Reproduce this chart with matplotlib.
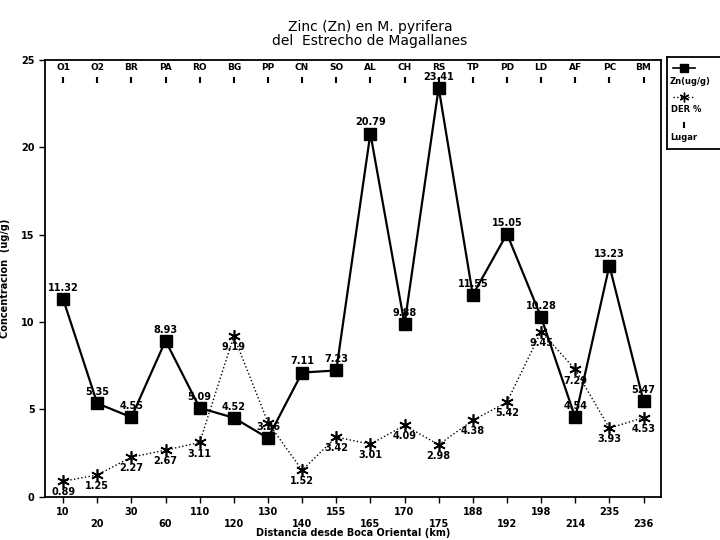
import numpy as np
import matplotlib.pyplot as plt

"--------------- datos --------------------"
lugares = ['O1', 'O2', 'BR', 'PA', 'RO', 'BG', 'PP', 'CN', 'SO',
           'AL', 'CH', 'RS', 'TP', 'PD', 'LD', 'AF', 'PC', 'BM']
distancia = ['10', '20', '30', '60', '110', '120', '130', '140', '155',
             '165', '170', '175', '188', '192', '198', '214', '235', '236']
zn = [11.32, 5.35, 4.55, 8.93, 5.09, 4.52, 3.36, 7.11, 7.23,
      20.79, 9.88, 23.41, 11.55, 15.05, 10.28, 4.54, 13.23, 5.47]
der = [0.89, 1.25, 2.27, 2.67, 3.11, 9.19, 4.25, 1.52, 3.42,
       3.01, 4.09, 2.98, 4.38, 5.42, 9.45, 7.29, 3.93, 4.53]

fuente = 'DejaVu Sans'
plt.rcParams['font.family'] = fuente

fig = plt.figure(figsize=(7.2, 5.4), dpi=100)
ax = fig.add_axes([0.0625, 0.080, 0.855, 0.809])

x = np.arange(len(lugares))

" Zn "
ax.plot(x, zn, '-', color='black', lw=1.6, marker='s', ms=8, zorder=3)
for i in range(len(x)):
    ax.text(x[i], zn[i] + 0.35, '%.2f' % zn[i], ha='center', va='bottom',
            fontsize=7, fontweight='bold')

" DER % "
ax.plot(x, der, ':', color='black', lw=1.0, marker=(6, 2, 0), ms=9, mew=1.2, zorder=3)
for i in range(len(x)):
    if i == 6:
        continue
    ax.text(x[i], der[i] - 0.35, '%.2f' % der[i], ha='center', va='top',
            fontsize=7, fontweight='bold')

" Lugar "
for i in range(len(x)):
    ax.text(x[i], 24.3, lugares[i], ha='center', va='bottom', fontsize=6.5, fontweight='bold')
    ax.plot(x[i], 23.85, marker='|', color='black', ms=5, mew=1.5)

ax.set_xlim(-0.53, 17.5)
ax.set_ylim(0, 25)
ax.set_yticks([0, 5, 10, 15, 20, 25])
ax.set_yticklabels(['0', '5', '10', '15', '20', '25'], fontsize=7, fontweight='bold')
ax.set_xticks(x)
etiquetas = []
for i in range(len(x)):
    if i % 2 == 0:
        etiquetas.append(distancia[i])
    else:
        etiquetas.append('\n' + distancia[i])
ax.set_xticklabels(etiquetas, fontsize=7, fontweight='bold', linespacing=1.3)
ax.tick_params(direction='out', length=4, width=1)
ax.tick_params(axis='x', pad=3)
for s in ax.spines.values():
    s.set_linewidth(1.3)

ax.set_xlabel('Distancia desde Boca Oriental (km)', fontsize=7, fontweight='bold', labelpad=-1)
ax.set_ylabel('Concentracion  (ug/g)', fontsize=7, fontweight='bold', labelpad=8)

fig.text(0.514, 0.937, 'Zinc (Zn) en M. pyrifera\ndel  Estrecho de Magallanes',
         ha='center', va='center', fontsize=10, linespacing=1.0)

"--------------- leyenda -----------------------"
ley = fig.add_axes([667 / 720, 1 - 149 / 540, 62 / 720, 92 / 540])
ley.set_xlim(0, 1)
ley.set_ylim(0, 1)
ley.set_xticks([])
ley.set_yticks([])
for s in ley.spines.values():
    s.set_linewidth(1.3)
ley.plot([0.1, 0.45], [0.88, 0.88], '-', color='black', lw=1.2)
ley.plot(0.27, 0.88, marker='s', color='black', ms=6)
ley.text(0.04, 0.73, 'Zn(ug/g)', fontsize=6, fontweight='bold', va='center')
ley.plot([0.1, 0.45], [0.57, 0.57], ':', color='black', lw=1)
ley.plot(0.27, 0.57, marker=(6, 2, 0), color='black', ms=7)
ley.text(0.06, 0.43, 'DER %', fontsize=6, fontweight='bold', va='center')
ley.plot(0.27, 0.26, marker='|', color='black', ms=5, mew=1.5)
ley.text(0.06, 0.12, 'Lugar', fontsize=6, fontweight='bold', va='center')

fig.savefig('out.png', dpi=100)
